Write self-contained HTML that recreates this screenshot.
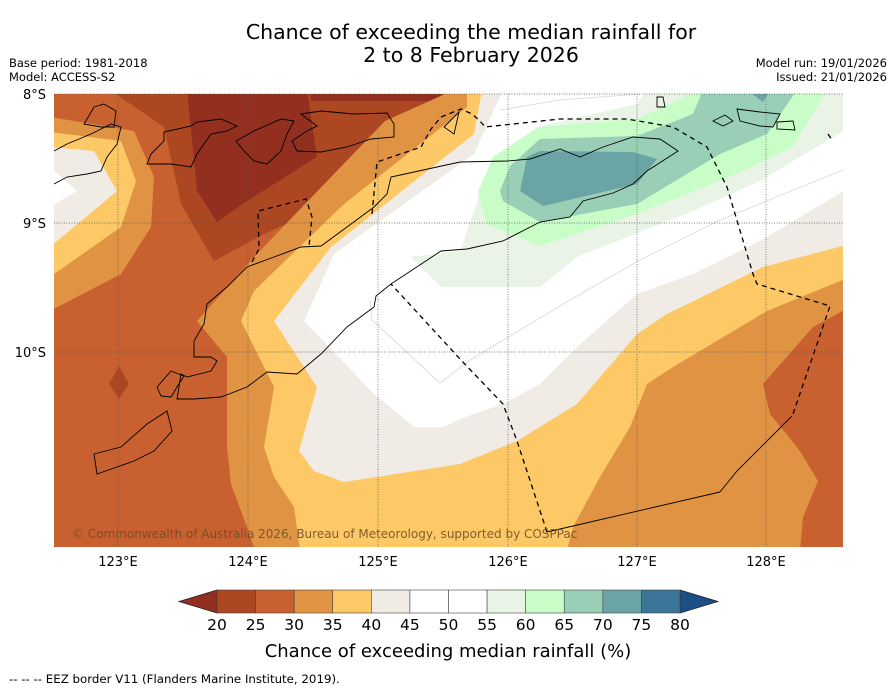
<!DOCTYPE html>
<html><head><meta charset="utf-8"><style>
body{margin:0;background:#fff;}
#c{position:relative;width:896px;height:690px;overflow:hidden;font-family:"Liberation Sans","DejaVu Sans",sans-serif;}
svg text{font-family:"DejaVu Sans","Liberation Sans",sans-serif;}
</style></head><body>
<div id="c">
<svg width="896" height="690" viewBox="0 0 896 690">
<text x="471" y="39" font-size="20.5" text-anchor="middle">Chance of exceeding the median rainfall for</text>
<text x="471" y="62" font-size="20.5" text-anchor="middle">2 to 8 February 2026</text>
<text x="9" y="67" font-size="11.5">Base period: 1981-2018</text>
<text x="9" y="81" font-size="11.5">Model: ACCESS-S2</text>
<text x="887" y="67" font-size="11.5" text-anchor="end">Model run: 19/01/2026</text>
<text x="887" y="81" font-size="11.5" text-anchor="end">Issued: 21/01/2026</text>
<defs><clipPath id="mc"><rect x="54" y="94" width="789" height="453"/></clipPath></defs>
<g clip-path="url(#mc)">
<rect x="54" y="94" width="789" height="453" fill="#c8612f"/>
<polygon fill="#ad4722" points="110,90 164,127 181,204 214,261 264,234 331,204 387,171 437,117 460,90"/>
<polygon fill="#932f1e" points="187,90 197,191 217,222 247,201 317,157 307,90"/>
<polygon fill="#932f1e" points="311,90 441,90 441,101 311,101"/>
<polygon fill="#ad4722" points="119,366 129,384 119,399 109,384"/>
<polygon fill="#e09443" points="50,117 134,131 154,177 151,227 121,274 50,311"/>
<polygon fill="#fdc966" points="50,132 121,141 136,181 121,227 50,277"/>
<polygon fill="#f0ebe5" points="50,147 94,151 117,191 50,247"/>
<polygon fill="#ffffff" points="50,167 77,191 50,207"/>
<polygon fill="#e09443" points="385,121 454,90 850,90 850,307 813,327 763,384 770,414 800,451 818,481 803,517 800,550 255,550 247,527 231,484 227,447 227,357 197,321 254,257"/>
<polygon fill="#fdc966" points="467,90 850,90 850,277 767,311 673,367 647,384 630,427 600,477 573,527 567,550 300,550 294,507 274,477 264,447 274,387 254,347 241,321 254,291 344,204 467,107"/>
<polygon fill="#f0ebe5" points="482,90 850,90 850,244 763,267 667,314 637,334 577,404 517,441 460,464 344,482 314,471 299,451 317,387 274,321 331,247 474,134"/>
<polygon fill="#ffffff" points="503,90 850,90 850,187 760,241 693,274 637,294 577,347 540,384 503,404 460,419 444,427 414,427 374,394 304,321 334,254 474,154"/>
<polygon fill="#e9f4e6" points="411,257 460,251 493,157 537,127 637,104 647,90 850,90 850,127 760,181 693,211 577,257 540,287 441,287"/>
<polygon fill="#c8fdc8" points="478,192 493,157 540,127 637,119 700,90 827,90 793,147 737,174 637,214 540,246 487,224"/>
<polygon fill="#9acfb7" points="500,191 510,166 540,139 637,136 693,114 703,90 797,90 767,134 720,154 637,204 540,222 503,201"/>
<polygon fill="#6aa4a5" points="520,191 527,157 540,151 633,152 657,159 637,184 543,206"/>
<polygon fill="#6aa4a5" points="747,90 770,90 763,102"/>
<g fill="none" stroke="#d8d8d8" stroke-width="0.8">
<polyline points="370,300 372,320 440,383 470,360 520,330 570,300 640,260 720,220 843,170"/>
<polyline points="500,110 560,100 640,94"/>
</g>
</g>
<g stroke="#555" stroke-width="0.7" stroke-dasharray="1,1.5">
<line x1="118" y1="94" x2="118" y2="547"/><line x1="248" y1="94" x2="248" y2="547"/><line x1="378" y1="94" x2="378" y2="547"/>
<line x1="508" y1="94" x2="508" y2="547"/><line x1="637" y1="94" x2="637" y2="547"/><line x1="766" y1="94" x2="766" y2="547"/>
<line x1="54" y1="94" x2="843" y2="94"/><line x1="54" y1="223" x2="843" y2="223"/><line x1="54" y1="352" x2="843" y2="352"/>
</g>
<g clip-path="url(#mc)" fill="none" stroke="#000" stroke-width="0.9">
<polygon points="678,151 660,139 633,137 603,147 580,157 560,149 530,159 507,161 460,162 414,172 391,177 387,194 374,207 347,227 321,246 301,247 274,257 247,267 227,287 207,304 204,324 194,341 194,357 211,357 217,361 211,371 187,377 181,374 177,399 194,399 221,397 247,387 267,372 297,374 321,354 347,327 374,307 376,296 391,284 441,251 467,249 503,241 540,222 570,217 583,201 613,193 633,184 647,171"/>
<polygon points="164,132 191,126 197,122 221,119 237,126 227,131 211,134 197,154 191,167 171,164 147,164 151,154 164,141"/>
<polygon points="236,141 254,131 281,119 294,121 287,134 281,151 267,164 254,161 244,151"/>
<polygon points="301,114 321,111 354,114 387,113 394,124 394,137 371,139 347,147 321,152 297,151 292,141 307,131 317,126"/>
<polyline points="54,151 67,144 91,134 111,124 121,127 117,144 107,157 101,171 87,174 67,177 54,184"/>
<polygon points="84,124 94,107 104,104 116,111 114,127 101,127"/>
<polygon points="157,387 171,371 184,376 177,387 171,397 161,396"/>
<polygon points="94,454 121,447 147,424 167,411 172,431 154,451 134,461 117,467 97,474"/>
<polygon points="657,97 663,97 665,107 657,107"/>
<polygon points="713,121 725,115 733,121 723,126"/>
<polygon points="737,109 760,112 780,114 773,127 760,126 740,121"/>
<polygon points="777,122 793,121 795,130 777,129"/>
<polygon points="444,127 459,112 454,134"/>
<polyline points="720,492 737,471 792,416"/>
<polyline points="547,532 573,526 720,492"/>
</g>
<g clip-path="url(#mc)" fill="none" stroke="#000" stroke-width="1.3" stroke-dasharray="5,4">
<polyline points="252,262 259,249 258,211 306,199 312,217 309,246"/>
<polyline points="372,214 377,162 421,147 431,129 441,117 461,109 472,114 480,121 485,127 560,119 627,119 673,127 707,147 727,187 753,274 757,284 830,306 793,414"/>
<polyline points="547,532 517,441 503,404 460,359 391,284"/>
<polyline points="828,134 832,140"/>
</g>
<text x="72" y="538" font-size="12" fill="#6b4a2a" fill-opacity="0.85">© Commonwealth of Australia 2026, Bureau of Meteorology, supported by COSPPac</text>
<g font-size="13">
<text x="46" y="99" text-anchor="end">8°S</text>
<text x="46" y="228" text-anchor="end">9°S</text>
<text x="46" y="357" text-anchor="end">10°S</text>
<text x="118" y="566" text-anchor="middle">123°E</text>
<text x="248" y="566" text-anchor="middle">124°E</text>
<text x="378" y="566" text-anchor="middle">125°E</text>
<text x="508" y="566" text-anchor="middle">126°E</text>
<text x="637" y="566" text-anchor="middle">127°E</text>
<text x="766" y="566" text-anchor="middle">128°E</text>
</g>
<g id="cbar"></g>
<text x="448" y="657" font-size="18" text-anchor="middle">Chance of exceeding median rainfall (%)</text>
<text x="9" y="683" font-size="11.8">--  --  -- EEZ border V11 (Flanders Marine Institute, 2019).</text>
</svg>
</div>
<script>
const cbTicks = [20,25,30,35,40,45,50,55,60,65,70,75,80];
const cbColors = ["#ad4722","#c8612f","#e09443","#fdc966","#f0ebe5","#ffffff","#ffffff","#e9f4e6","#c8fdc8","#9acfb7","#6aa4a5","#3d7598"];
const cbUnder = "#932f1e", cbOver = "#1c4f86";
(function(){
  const NS="http://www.w3.org/2000/svg", g=document.getElementById('cbar');
  const x0=217,x1=680,y0=590,y1=613;
  const xs=v=>x0+(v-cbTicks[0])/(cbTicks[cbTicks.length-1]-cbTicks[0])*(x1-x0);
  function mk(t,a){const e=document.createElementNS(NS,t);for(const k in a)e.setAttribute(k,a[k]);g.appendChild(e);return e;}
  let t=mk('polygon',{points:`${x0},${y0} ${x0},${y1} 179,${(y0+y1)/2}`,fill:cbUnder,stroke:'#222','stroke-width':0.8});
  
  
  t=mk('polygon',{points:`${x1},${y0} ${x1},${y1} 718,${(y0+y1)/2}`,fill:cbOver,stroke:'#222','stroke-width':0.8});
  
  
  cbColors.forEach((c,i)=>{
    const a=xs(cbTicks[i]),b=xs(cbTicks[i+1]);
    const r=mk('rect',{x:a,y:y0,width:b-a,height:y1-y0,fill:c,stroke:'#444','stroke-width':0.6});
    
    
  });
  cbTicks.forEach(v=>{
    const tx=mk('text',{x:xs(v),y:630,'font-size':15.5,'text-anchor':'middle'});
    tx.textContent=v;
    
    
  });
})();
</script>
</body></html>
